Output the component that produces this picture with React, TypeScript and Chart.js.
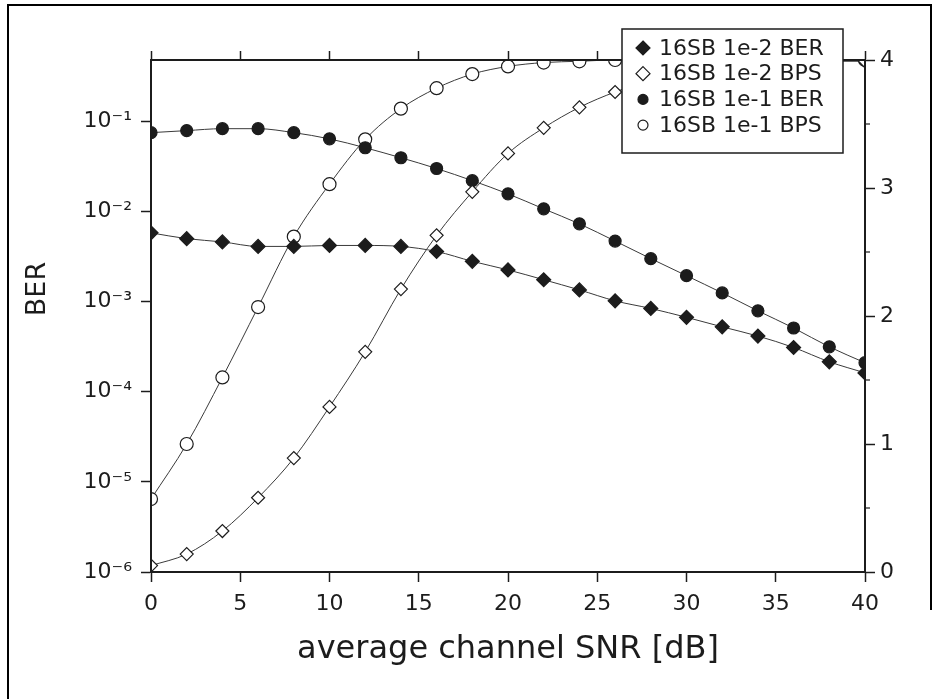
import React, { useEffect, useRef } from 'react';
import { Chart, registerables } from 'chart.js';

Chart.register(...registerables);

const snr = [0, 2, 4, 6, 8, 10, 12, 14, 16, 18, 20, 22, 24, 26, 28, 30, 32, 34, 36, 38, 40];
const ber1e2 = [5.8e-3, 5.0e-3, 4.6e-3, 4.1e-3, 4.1e-3, 4.2e-3, 4.2e-3, 4.1e-3, 3.6e-3, 2.8e-3, 2.25e-3, 1.75e-3, 1.35e-3, 1.02e-3, 8.4e-4, 6.7e-4, 5.25e-4, 4.15e-4, 3.1e-4, 2.15e-4, 1.62e-4];
const bps1e2 = [0.05, 0.14, 0.32, 0.58, 0.89, 1.29, 1.72, 2.21, 2.63, 2.97, 3.27, 3.47, 3.63, 3.75, 3.84, 3.9, 3.94, 3.96, 3.98, 3.99, 3.99];
const ber1e1 = [0.075, 0.079, 0.083, 0.083, 0.075, 0.064, 0.051, 0.0395, 0.03, 0.022, 0.0157, 0.0107, 7.3e-3, 4.7e-3, 3.0e-3, 1.94e-3, 1.25e-3, 7.9e-4, 5.1e-4, 3.15e-4, 2.1e-4];
const bps1e1 = [0.57, 1.0, 1.52, 2.07, 2.62, 3.03, 3.38, 3.62, 3.78, 3.89, 3.95, 3.98, 3.99, 4.0, 4.0, 4.0, 4.0, 4.0, 4.0, 4.0, 4.0];

const seriesLabels = ['16SB 1e-2 BER', '16SB 1e-2 BPS', '16SB 1e-1 BER', '16SB 1e-1 BPS'];
const berTicks = [1e-6, 1e-5, 1e-4, 1e-3, 1e-2, 1e-1];
const berTickLabels = ['10⁻⁶', '10⁻⁵', '10⁻⁴', '10⁻³', '10⁻²', '10⁻¹'];
const bpsMinorTicks = [0.5, 1.5, 2.5, 3.5];
const xTitle = 'average channel SNR [dB]';
const yTitle = 'BER';

const FONT = "'DejaVu Sans', sans-serif";
const INK = '#1c1c1c';
const LINE = '#3a3a3a';

const toPoints = (ys: number[]) => snr.map((x, i) => ({ x, y: ys[i] }));

const clipPlugin = {
  id: 'areaClip',
  beforeDatasetsDraw(chart: any) {
    const a = chart.chartArea;
    const ctx = chart.ctx;
    ctx.save();
    ctx.beginPath();
    ctx.rect(a.left, a.top, a.right - a.left, a.bottom - a.top);
    ctx.clip();
  },
  afterDatasetsDraw(chart: any) {
    const ctx = chart.ctx;
    ctx.restore();
    // wipe any marker overflow outside the plot frame (axes are drawn afterwards, z = 1)
    const a = chart.chartArea;
    const m = 12;
    ctx.save();
    ctx.fillStyle = '#ffffff';
    ctx.fillRect(a.left - m, a.top - m, m, a.bottom - a.top + 2 * m);
    ctx.fillRect(a.right, a.top - m, m, a.bottom - a.top + 2 * m);
    ctx.fillRect(a.left - m, a.top - m, a.right - a.left + 2 * m, m);
    ctx.fillRect(a.left - m, a.bottom, a.right - a.left + 2 * m, m);
    ctx.restore();
  },
};

const minorTickPlugin = {
  id: 'minorTicks',
  afterDraw(chart: any) {
    const s = chart.scales.y1;
    const ctx = chart.ctx;
    ctx.save();
    ctx.strokeStyle = INK;
    ctx.lineWidth = 1.2;
    for (const v of bpsMinorTicks) {
      const y = s.getPixelForValue(v);
      ctx.beginPath();
      ctx.moveTo(s.left, y);
      ctx.lineTo(s.left + 5, y);
      ctx.stroke();
    }
    ctx.restore();
  },
};

const yTitlePlugin = {
  id: 'yTitle',
  afterDraw(chart: any) {
    const ctx = chart.ctx;
    ctx.save();
    ctx.translate(38, 289);
    ctx.rotate(-Math.PI / 2);
    ctx.fillStyle = INK;
    ctx.font = `27px ${FONT}`;
    ctx.textAlign = 'center';
    ctx.textBaseline = 'middle';
    ctx.fillText(yTitle, 0, 0);
    ctx.restore();
  },
};

const legendPlugin = {
  id: 'boxLegend',
  afterDraw(chart: any) {
    const ctx = chart.ctx;
    const bx = 622, by = 29, bw = 221, bh = 124;
    ctx.save();
    ctx.fillStyle = '#fff';
    ctx.fillRect(bx, by, bw, bh);
    ctx.strokeStyle = INK;
    ctx.lineWidth = 1.5;
    ctx.strokeRect(bx, by, bw, bh);
    ctx.font = `22px ${FONT}`;
    ctx.textBaseline = 'middle';
    ctx.textAlign = 'left';
    chart.data.datasets.forEach((ds: any, i: number) => {
      const y = 48 + i * 25.7;
      const x = 643;
      ctx.beginPath();
      if (ds.pointStyle === 'rectRot') {
        const r = 7;
        ctx.moveTo(x, y - r);
        ctx.lineTo(x + r, y);
        ctx.lineTo(x, y + r);
        ctx.lineTo(x - r, y);
        ctx.closePath();
      } else {
        ctx.arc(x, y, 5, 0, Math.PI * 2);
      }
      ctx.fillStyle = ds.pointBackgroundColor;
      ctx.fill();
      ctx.lineWidth = 1.2;
      ctx.strokeStyle = ds.pointBorderColor;
      ctx.stroke();
      ctx.fillStyle = INK;
      ctx.fillText(ds.label, 659, y + 1);
    });
    ctx.restore();
  },
};

const tickFont = { family: FONT, size: 22 };
const gridCommon = { drawOnChartArea: false, drawTicks: true, tickLength: 10, tickColor: INK, tickWidth: 1.5, z: 1 };
const borderCommon = { display: true, color: INK, width: 2, z: 1 };

export default function App() {
  const ref = useRef<HTMLCanvasElement>(null);

  useEffect(() => {
    const canvas = ref.current;
    if (!canvas) return;
    const mk = (i: number, ys: number[], axis: string, style: string, radius: number, filled: boolean) => ({
      label: seriesLabels[i],
      data: toPoints(ys),
      yAxisID: axis,
      borderColor: LINE,
      borderWidth: 1,
      pointStyle: style,
      pointRadius: radius,
      pointBackgroundColor: filled ? INK : '#ffffff',
      pointBorderColor: INK,
      pointBorderWidth: 1.2,
      cubicInterpolationMode: 'monotone',
      fill: false,
      clip: false,
    });
    const chart = new Chart(canvas, {
      type: 'line',
      data: {
        datasets: [
          mk(0, ber1e2, 'y', 'rectRot', 7, true),
          mk(1, bps1e2, 'y1', 'rectRot', 6.5, false),
          mk(2, ber1e1, 'y', 'circle', 6, true),
          mk(3, bps1e1, 'y1', 'circle', 6.5, false),
        ] as any,
      },
      options: {
        responsive: false,
        animation: false,
        devicePixelRatio: 1,
        layout: { padding: 0 },
        plugins: { legend: { display: false }, tooltip: { enabled: false } },
        scales: {
          x: {
            type: 'linear',
            position: 'bottom',
            z: 1,
            min: 0,
            max: 40,
            ticks: { stepSize: 5, font: tickFont, color: INK, padding: 9, maxRotation: 0 },
            grid: gridCommon,
            border: borderCommon,
            title: { display: true, text: xTitle, font: { family: FONT, size: 32 }, color: INK, padding: { top: 0, bottom: 30 } },
            afterFit: (s: any) => { s.height = 127; },
          },
          x2: {
            type: 'linear',
            position: 'top',
            display: true,
            z: 1,
            min: 0,
            max: 40,
            ticks: { stepSize: 5, display: false },
            grid: { ...gridCommon, tickLength: 9 },
            border: borderCommon,
            afterFit: (s: any) => { s.height = 60; },
          },
          y: {
            type: 'logarithmic',
            position: 'left',
            z: 1,
            min: 1e-6,
            max: 0.48,
            afterBuildTicks: (s: any) => { s.ticks = berTicks.map((v) => ({ value: v })); },
            ticks: {
              font: tickFont,
              color: INK,
              padding: 9,
              autoSkip: false,
              callback: (v: any) => {
                const e = Math.round(Math.log10(Number(v)));
                const idx = berTicks.findIndex((t) => Math.round(Math.log10(t)) === e);
                return idx >= 0 ? berTickLabels[idx] : '';
              },
            },
            grid: gridCommon,
            border: borderCommon,
            afterFit: (s: any) => { s.width = 151; },
          },
          y1: {
            type: 'linear',
            position: 'right',
            z: 1,
            min: 0,
            max: 4,
            ticks: { stepSize: 1, font: tickFont, color: INK, padding: 5 },
            grid: gridCommon,
            border: borderCommon,
            afterFit: (s: any) => { s.width = 76; },
          },
        },
      } as any,
      plugins: [clipPlugin, minorTickPlugin, yTitlePlugin, legendPlugin],
    });
    return () => chart.destroy();
  }, []);

  return (
    <div style={{ position: 'fixed', left: 0, top: 0, width: 941, height: 699, background: '#fff', overflow: 'hidden' }}>
      <canvas ref={ref} width={941} height={699} style={{ position: 'absolute', left: 0, top: 0, width: 941, height: 699 }} />
      <div style={{ position: 'absolute', left: 7, top: 4, width: 2, height: 695, background: '#000' }} />
      <div style={{ position: 'absolute', left: 7, top: 4, width: 925, height: 2, background: '#000' }} />
      <div style={{ position: 'absolute', left: 930, top: 4, width: 2, height: 606, background: '#000' }} />
    </div>
  );
}
